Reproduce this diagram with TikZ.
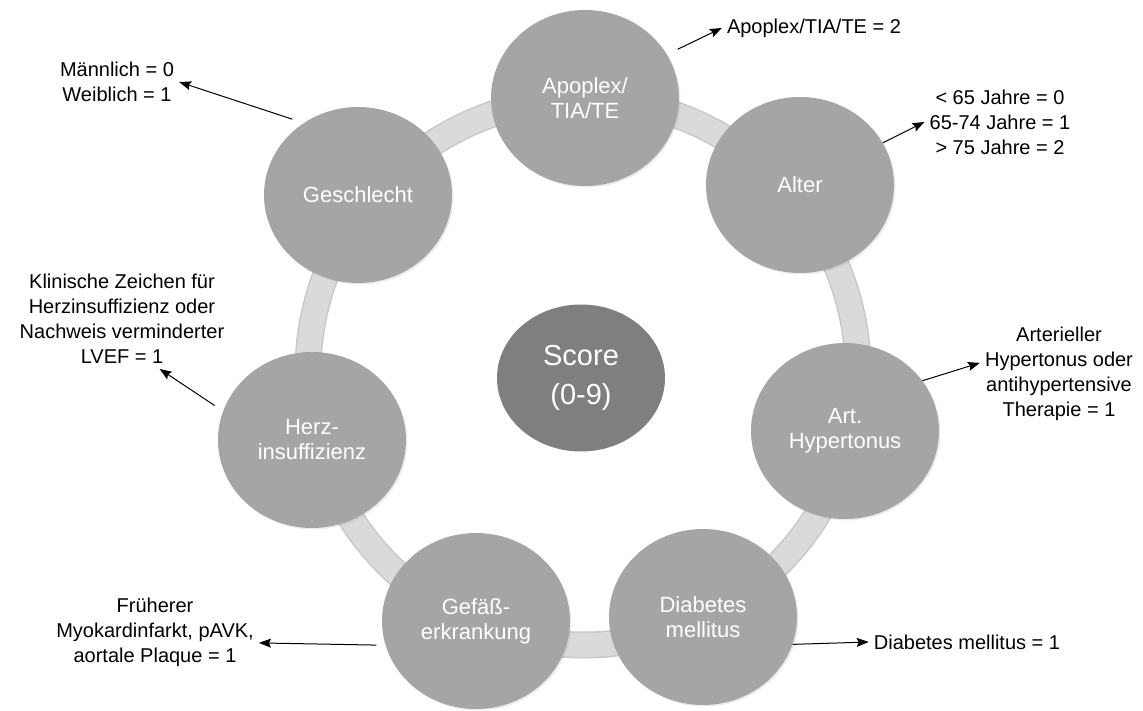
\documentclass[tikz,border=0pt]{standalone}
\usepackage{fontspec}
\setmainfont{Liberation Sans}
\usepackage{xcolor}
\usetikzlibrary{shapes,arrows.meta,shadows}

\definecolor{circgray}{RGB}{165,165,165}
\definecolor{scoregray}{RGB}{127,127,127}
\definecolor{ringgray}{RGB}{218,218,218}
\definecolor{ringedge}{RGB}{200,200,200}

\begin{document}
\begin{tikzpicture}[x=1pt, y=-1pt,
    factor/.style={ellipse, fill=circgray, minimum width=188pt, minimum height=176pt, inner sep=0pt,
        text=white, align=center, font=\fontsize{22}{25}\selectfont,
        drop shadow={opacity=0.15, shadow xshift=1.5pt, shadow yshift=-1.5pt}},
    score/.style={ellipse, fill=scoregray, minimum width=168pt, minimum height=147pt, inner sep=0pt,
        text=white, align=center, font=\fontsize{29}{39}\selectfont},
    info/.style={align=center, font=\fontsize{20}{25}\selectfont, inner sep=5pt},
    arr/.style={-{Stealth[length=12pt, width=9pt, inset=2pt]}, line width=1pt}]
    \useasboundingbox (0,0) rectangle (1143,711);

    % Ring
    \draw [ringedge, line width=27pt] (583,372) ellipse (275 and 273);
    \draw [ringgray, line width=24pt] (583,372) ellipse (275 and 273);

    % Risk factors
    \node [factor] (apo) at (585,98) {Apoplex/\\TIA/TE};
    \node [factor] (alt) at (800,185) {Alter};
    \node [factor] (art) at (845,431) {Art.\\Hypertonus};
    \node [factor] (dia) at (703,617) {Diabetes\\mellitus};
    \node [factor] (gef) at (476,621) {Gefäß-\\erkrankung};
    \node [factor] (herz) at (312,440) {Herz-\\insuffizienz};
    \node [factor] (ges) at (358,195) {Geschlecht};

    % Score
    \node [score] (score) at (581,378) {Score\\(0-9)};

    % Points
    \node [info] (apol) at (814,28) {Apoplex/TIA/TE = 2};
    \node [info] (altl) at (1000,122) {< 65 Jahre = 0\\65-74 Jahre = 1\\> 75 Jahre = 2};
    \node [info] (artl) at (1059,374) {Arterieller\\Hypertonus oder\\antihypertensive\\Therapie = 1};
    \node [info] (dial) at (967,642) {Diabetes mellitus = 1};
    \node [info] (gefl) at (155,632) {Früherer\\Myokardinfarkt, pAVK,\\aortale Plaque = 1};
    \node [info] (herzl) at (122,319) {Klinische Zeichen für\\Herzinsuffizienz oder\\Nachweis verminderter\\LVEF = 1};
    \node [info] (gesl) at (117,82) {Männlich = 0\\Weiblich = 1};

    % Arrows
    \draw [arr, shorten <=12pt] (apo.28) -- (apol.west);
    \draw [arr] (alt.27) -- (altl.west);
    \draw [arr] (art.33) -- (artl.172);
    \draw [arr] (dia.-17) -- (dial.west);
    \draw [arr, shorten <=9pt] (gef.195) -- (gefl.-6);
    \draw [arr, shorten <=10pt] (herz.162) -- (herzl.-53);
    \draw [arr, shorten <=12pt] (ges.127) -- (gesl.east);
\end{tikzpicture}
\end{document}
